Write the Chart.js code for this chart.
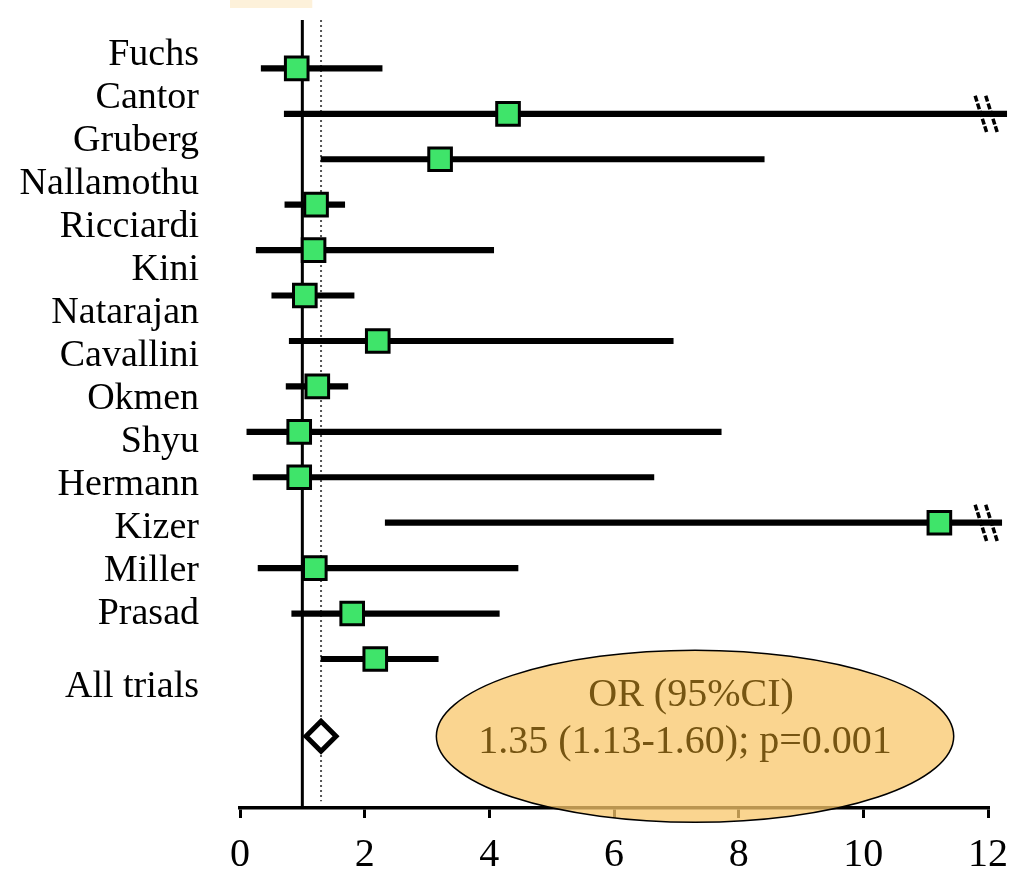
<!DOCTYPE html>
<html>
<head>
<meta charset="utf-8">
<script src="https://cdn.jsdelivr.net/npm/chart.js@4/dist/chart.umd.min.js"></script>
<style>
html,body{margin:0;padding:0;background:#fff;}
#wrap{width:1019px;height:880px;position:relative;}
</style>
</head>
<body>
<div id="wrap"><canvas id="c" width="1019" height="880"></canvas></div>
<script>
// ---- data ----
const studies = ['Fuchs','Cantor','Gruberg','Nallamothu','Ricciardi','Kini','Natarajan','Cavallini','Okmen','Shyu','Hermann','Kizer','Miller','Prasad'];
const oddsRatio = [0.91, 4.30, 3.21, 1.22, 1.18, 1.04, 2.21, 1.24, 0.95, 0.95, 11.22, 1.20, 1.80, 2.17];
const ciLower   = [0.34, 0.71, 1.30, 0.72, 0.26, 0.51, 0.79, 0.74, 0.11, 0.21, 2.33, 0.29, 0.83, 1.30];
const ciUpper   = [2.28, 12.30, 8.41, 1.68, 4.07, 1.83, 6.95, 1.73, 7.72, 6.64, 12.22, 4.46, 4.16, 3.18];
const summaryLabel = 'All trials';
const summaryOR = 1.3;
const nullValue = 1;
const xTicks = [0, 2, 4, 6, 8, 10, 12];
const summaryText = ['OR (95%CI)', '1.35 (1.13-1.60); p=0.001'];

// ---- layout helpers (axis ranges, not data) ----
const SUMMARY_ROW = 14.7;
const Y_MIN = -1.065, Y_MAX = 16.28;     // marks axis
const YL_MIN = -0.803, YL_MAX = 17.5;    // label axis
const X_MAX_AXIS = 12;
const SERIF = "'Liberation Serif','DejaVu Serif',serif";

const labelTicks = studies.map((s, i) => ({ value: i })).concat([{ value: SUMMARY_ROW }]);
const labelNames = studies.concat([summaryLabel]);

const decorPlugin = {
  id: 'decor',
  beforeDraw(chart) {
    const { ctx, scales: { x } } = chart;
    ctx.save();
    ctx.fillStyle = '#FDF1DA';
    const x0 = x.getPixelForValue(-0.16), x1 = x.getPixelForValue(1.16);
    ctx.fillRect(x0, 0, x1 - x0, 8);
    ctx.restore();
  },
  afterDraw(chart) {
    const { ctx, scales: { x, y } } = chart;
    ctx.save();
    // break marks for CIs beyond the axis
    ctx.strokeStyle = '#000';
    ctx.lineWidth = 3.5;
    ctx.setLineDash([6, 2]);
    studies.forEach((s, i) => {
      if (ciUpper[i] > X_MAX_AXIS) {
        const py = y.getPixelForValue(i);
        [11.89, 12.06].forEach(v => {
          const px = x.getPixelForValue(v);
          ctx.beginPath();
          ctx.moveTo(px - 6, py - 18);
          ctx.lineTo(px + 6, py + 20);
          ctx.stroke();
        });
      }
    });
    ctx.setLineDash([]);
    // ellipse with summary text
    const cx = x.getPixelForValue(7.3);
    const cy = y.getPixelForValue(SUMMARY_ROW);
    const rx = x.getPixelForValue(7.3 + 4.15) - cx;
    const ry = 86;
    ctx.beginPath();
    ctx.ellipse(cx, cy, rx, ry, 0, 0, Math.PI * 2);
    ctx.fillStyle = 'rgba(248,199,107,0.75)';
    ctx.fill();
    ctx.lineWidth = 1.5;
    ctx.strokeStyle = '#000';
    ctx.stroke();
    ctx.fillStyle = '#765512';
    ctx.font = "40px " + SERIF;
    ctx.textAlign = 'center';
    ctx.textBaseline = 'middle';
    ctx.fillText(summaryText[0], cx - 4, cy - 41);
    ctx.fillText(summaryText[1], cx - 10, cy + 6);
    ctx.restore();
  }
};

new Chart(document.getElementById('c'), {
  type: 'scatter',
  data: {
    datasets: [
      {
        type: 'scatter',
        data: studies.map((s, i) => ({ x: oddsRatio[i], y: i })),
        pointStyle: 'rect',
        pointRadius: 16,
        pointHoverRadius: 16,
        backgroundColor: '#3FE46A',
        borderColor: '#000',
        borderWidth: 3,
        xAxisID: 'x', yAxisID: 'y',
        clip: false,
        order: 0
      },
      {
        type: 'scatter',
        data: [{ x: summaryOR, y: SUMMARY_ROW }],
        pointStyle: 'rectRot',
        pointRadius: 15,
        pointHoverRadius: 15,
        backgroundColor: '#fff',
        borderColor: '#000',
        borderWidth: 5,
        xAxisID: 'x', yAxisID: 'y',
        clip: false,
        order: 0
      },
      {
        type: 'bar',
        indexAxis: 'y',
        data: studies.map((s, i) => ({ x: [ciLower[i], ciUpper[i]], y: i })),
        backgroundColor: '#000',
        borderWidth: 0,
        barThickness: 5.5,
        xAxisID: 'x', yAxisID: 'y',
        clip: false,
        order: 1
      },
      {
        type: 'line',
        data: [{ x: nullValue, y: Y_MIN }, { x: nullValue, y: Y_MAX }],
        borderColor: '#000',
        borderWidth: 3,
        pointRadius: 0,
        xAxisID: 'x', yAxisID: 'y',
        order: 3
      },
      {
        type: 'line',
        data: [{ x: summaryOR, y: Y_MIN }, { x: summaryOR, y: Y_MAX - 0.15 }],
        borderColor: '#555',
        borderWidth: 2,
        borderDash: [2, 3],
        pointRadius: 0,
        xAxisID: 'x', yAxisID: 'y',
        order: 3
      }
    ]
  },
  options: {
    responsive: false,
    devicePixelRatio: 1,
    animation: false,
    events: [],
    layout: { padding: { top: 10, right: 31, left: 0, bottom: 0 } },
    plugins: { legend: { display: false }, tooltip: { enabled: false } },
    scales: {
      x: {
        type: 'linear',
        position: 'bottom',
        min: 0, max: 12,
        offset: false,
        afterBuildTicks: s => { s.ticks = xTicks.map(v => ({ value: v })); },
        ticks: { font: { family: SERIF, size: 40 }, color: '#000', padding: 13, maxRotation: 0, autoSkip: false },
        grid: { drawOnChartArea: false, drawTicks: true, tickLength: 10, color: '#000', lineWidth: 3, offset: false },
        border: { display: true, color: '#000', width: 3.5 },
        afterFit: s => { s.height = 72; s.paddingLeft = 0; s.paddingRight = 0; }
      },
      y: {
        type: 'linear',
        reverse: true,
        offset: false,
        min: Y_MIN, max: Y_MAX,
        display: false,
        ticks: { display: false },
        grid: { offset: false },
        afterFit: s => { s.width = 0; s.paddingTop = 0; s.paddingBottom = 0; }
      },
      yl: {
        type: 'linear',
        position: 'left',
        reverse: true,
        offset: false,
        min: YL_MIN, max: YL_MAX,
        afterBuildTicks: s => { s.ticks = labelTicks.map(t => ({ value: t.value })); },
        ticks: {
          autoSkip: false,
          font: { family: SERIF, size: 38 },
          color: '#000',
          padding: 41,
          callback: (v, idx) => labelNames[idx]
        },
        grid: { display: false, drawTicks: false },
        border: { display: false },
        afterFit: s => { s.width = 240; s.paddingTop = 0; s.paddingBottom = 0; }
      }
    }
  },
  plugins: [decorPlugin]
});
</script>
</body>
</html>
